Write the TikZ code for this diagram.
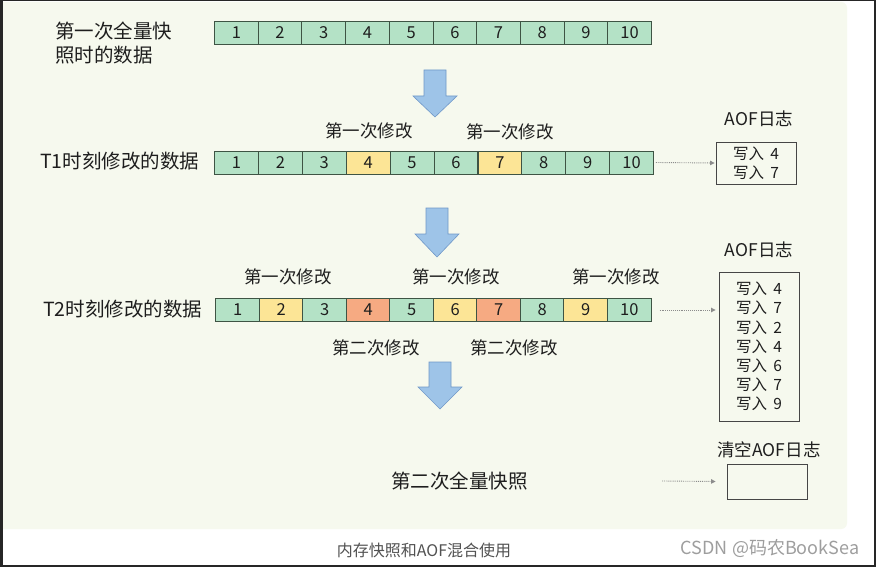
\documentclass[tikz,border=0pt]{standalone}
\usepackage{fontspec}
\setmainfont{Noto Sans CJK SC}
\usetikzlibrary{arrows.meta}
\definecolor{cg}{RGB}{180,226,198}
\definecolor{cy}{RGB}{252,229,150}
\definecolor{co}{RGB}{246,170,130}
\definecolor{cellline}{RGB}{62,84,68}
\definecolor{panel}{RGB}{246,249,238}
\definecolor{arrowfill}{RGB}{158,196,232}
\definecolor{arrowline}{RGB}{112,152,200}
\definecolor{txt}{RGB}{30,30,30}
\definecolor{dotc}{RGB}{140,140,140}
\definecolor{boxline}{RGB}{70,70,70}
\newcommand{\aofw}[1]{写入\hspace{0.4em}#1}
\tikzset{
  cell/.style={draw=cellline,line width=0.9pt,minimum width=43.8pt,minimum height=23pt,inner sep=0pt,font=\fontsize{16.5}{18}\selectfont,text=txt},
  rowlabel/.style={font=\fontsize{19.5}{24}\selectfont,text=txt,inner sep=0pt},
  modlabel/.style={font=\fontsize{17.5}{20}\selectfont,text=txt,inner sep=0pt},
  aoflabel/.style={font=\fontsize{17.5}{20}\selectfont,text=txt,inner sep=0pt},
  aofbox/.style={draw=boxline,line width=0.9pt,fill=panel,inner sep=0pt,align=center,font=\fontsize{15.5}{19.2}\selectfont,text=txt},
  bigarrow/.style={fill=arrowfill,draw=arrowline,line width=0.6pt,line join=miter},
  dotarrow/.style={draw=dotc,densely dotted,line width=0.9pt,-{Triangle[length=4.5pt,width=4.5pt]}},
}
\begin{document}
\begin{tikzpicture}[x=1pt,y=-1pt]
\useasboundingbox (0,0) rectangle (876,567);
% background and frame
\fill[white] (0,0) rectangle (876,567);
\fill[panel] (3,2) [rounded corners=6pt] -- (847,2) -- (847,529) [sharp corners] -- (3,529) -- cycle;
\fill[black!85] (0,0) rectangle (3,567);
\fill[black!85] (0,0) rectangle (876,1.5);
\fill[black!85] (0,565) rectangle (876,567);
\fill[black!85] (874,0) rectangle (876,567);

% row 1
\foreach \i in {1,...,10}
  \node[cell,fill=cg] (r1c\i) at ({214.5+43.7*(\i-0.5)},32.5) {\i};
% row 2
\foreach \i/\c in {1/cg,2/cg,3/cg,4/cy,5/cg,6/cg,7/cy,8/cg,9/cg,10/cg}
  \node[cell,fill=\c] (r2c\i) at ({214.5+43.9*(\i-0.5)},162.5) {\i};
% row 3
\foreach \i/\c in {1/cg,2/cy,3/cg,4/co,5/cg,6/cy,7/co,8/cg,9/cy,10/cg}
  \node[cell,fill=\c] (r3c\i) at ({216+43.5*(\i-0.5)},310) {\i};

% row labels
\node[rowlabel,anchor=west,align=left] (t0) at (55,43) {第一次全量快\\照时的数据};
\node[rowlabel,anchor=west] (t1) at (40,161.5) {T1时刻修改的数据};
\node[rowlabel,anchor=west] (t2) at (43,309.5) {T2时刻修改的数据};
\node[rowlabel] (t3) at (459.5,481) {第二次全量快照};

% modification labels
\node[modlabel] (m1) at (369,131) {第一次修改};
\node[modlabel] (m2) at (510,132) {第一次修改};
\node[modlabel] (m3) at (288,277) {第一次修改};
\node[modlabel] (m4) at (456,277) {第一次修改};
\node[modlabel] (m5) at (616,277) {第一次修改};
\node[modlabel] (m6) at (376,348) {第二次修改};
\node[modlabel] (m7) at (514,348) {第二次修改};

% big arrows
\filldraw[bigarrow] (424,70) -- (446,70) -- (446,96) -- (457,96) -- (435,117) -- (413,96) -- (424,96) -- cycle;
\filldraw[bigarrow] (426,208) -- (448,208) -- (448,234) -- (459,234) -- (437,257) -- (415,234) -- (426,234) -- cycle;
\filldraw[bigarrow] (429,362) -- (451,362) -- (451,387) -- (462,387) -- (440,409) -- (418,387) -- (429,387) -- cycle;

% AOF logs
\node[aoflabel] (l1) at (759,119) {AOF日志};
\node[aofbox,minimum width=80pt,minimum height=42pt] (a1) at (756,163) {\aofw{4}\\\aofw{7}};
\node[aoflabel] (l2) at (759,250) {AOF日志};
\node[aofbox,minimum width=80pt,minimum height=149pt] (a2) at (759,346.5) {\aofw{4}\\\aofw{7}\\\aofw{2}\\\aofw{4}\\\aofw{6}\\\aofw{7}\\\aofw{9}};
\node[aoflabel] (l3) at (769,450) {清空AOF日志};
\node[aofbox,minimum width=80pt,minimum height=35pt] (a3) at (767,481.5) {};

% dotted connectors
\draw[dotarrow] ([xshift=2pt]r2c10.east) -- ([xshift=-1pt]a1.west);
\draw[dotarrow] ([xshift=8pt]r3c10.east) -- ([xshift=-3pt]a2.west |- r3c10.east);
\coordinate (s3) at (662,481);
\draw[dotarrow] (s3) -- ([xshift=-11pt]a3.west);

% caption
\node[font=\fontsize{16}{18}\selectfont,text=black!68,inner sep=0pt] (cap) at (424,550) {内存快照和AOF混合使用};
\node[font=\fontsize{18}{20}\selectfont,text=black!38,inner sep=0pt] (csdn) at (770,548.5) {CSDN @码农BookSea};
\end{tikzpicture}
\end{document}
